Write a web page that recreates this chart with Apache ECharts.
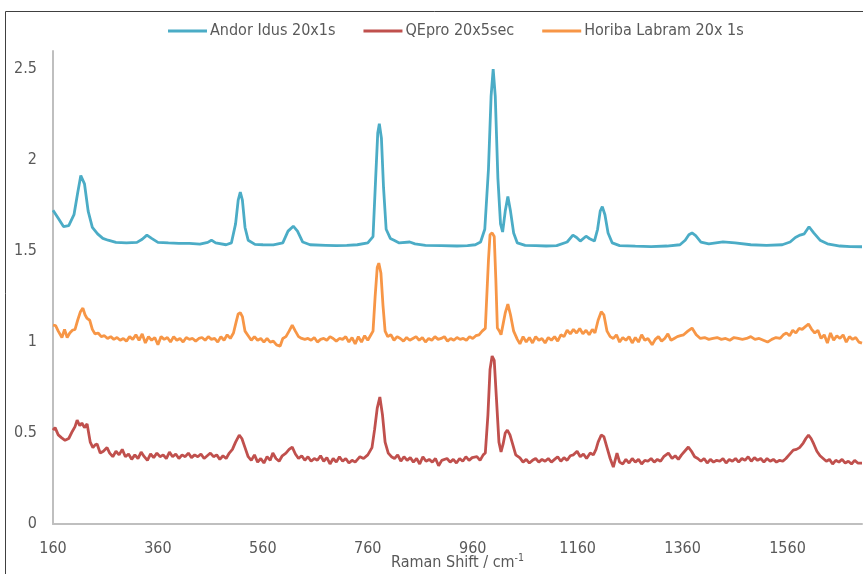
<!DOCTYPE html>
<html>
<head>
<meta charset="utf-8">
<script src="https://cdn.jsdelivr.net/npm/echarts@6/dist/echarts.min.js"></script>
<style>html,body{margin:0;padding:0;background:#fff;}#c{width:863px;height:574px;}</style>
</head>
<body>
<div id="c"></div>
<script>
const seriesNames = ['Andor Idus 20x1s', 'QEpro 20x5sec', 'Horiba Labram 20x 1s'];
const xTicks = [160, 360, 560, 760, 960, 1160, 1360, 1560];
const yTicks = [0, 0.5, 1, 1.5, 2, 2.5];

const andorShift = [160,170,180,190,200,207,213,220,227,235,245,255,265,280,300,320,330,339,348,360,380,400,420,440,455,462,470,490,500,508,513,517,521,526,532,545,560,580,598,608,618,626,636,650,680,700,720,740,760,770,775,779,782,786,790,795,803,810,820,840,850,870,900,930,950,965,975,983,990,995,999,1003,1008,1013,1017,1022,1027,1032,1038,1045,1060,1080,1100,1120,1140,1151,1158,1165,1176,1183,1192,1198,1203,1207,1212,1218,1226,1240,1270,1300,1330,1355,1365,1372,1378,1385,1395,1410,1437,1460,1490,1520,1550,1565,1575,1584,1592,1601,1610,1622,1636,1660,1680,1702];
const andorIntensity = [1.725,1.68,1.635,1.64,1.70,1.82,1.915,1.87,1.72,1.63,1.595,1.57,1.56,1.548,1.545,1.548,1.565,1.588,1.57,1.548,1.545,1.543,1.542,1.538,1.548,1.56,1.545,1.535,1.545,1.65,1.78,1.825,1.78,1.63,1.56,1.537,1.535,1.534,1.545,1.61,1.637,1.61,1.55,1.535,1.532,1.53,1.532,1.535,1.545,1.58,1.9,2.15,2.2,2.12,1.85,1.62,1.57,1.56,1.545,1.55,1.54,1.532,1.53,1.528,1.53,1.535,1.55,1.62,1.95,2.35,2.5,2.35,1.9,1.65,1.605,1.72,1.8,1.72,1.6,1.545,1.532,1.53,1.528,1.53,1.55,1.588,1.575,1.555,1.582,1.568,1.555,1.62,1.72,1.744,1.7,1.6,1.545,1.53,1.527,1.525,1.528,1.535,1.56,1.59,1.6,1.585,1.55,1.54,1.551,1.545,1.535,1.532,1.535,1.55,1.575,1.588,1.595,1.634,1.6,1.56,1.54,1.528,1.525,1.524];

const qeproShift = [160,164,170,176,183,190,197,202,206,211,215,220,225,231,236,240,244,250,256,263,268,274,280,286,292,298,304,310,316,322,328,334,340,346,352,358,364,370,376,382,388,394,400,406,412,418,424,430,436,442,448,454,460,466,472,478,484,490,496,502,508,515,520,526,532,538,544,550,556,562,568,574,579,585,591,597,604,610,616,622,628,634,640,646,652,658,664,670,676,682,688,694,700,706,712,718,724,730,736,745,752,760,768,773,778,783,788,793,799,805,811,817,823,829,835,841,847,853,859,865,871,877,883,889,895,901,911,917,923,929,935,941,947,953,959,968,974,980,984,989,993,997,1001,1005,1010,1014,1018,1022,1026,1031,1036,1042,1050,1056,1062,1068,1074,1080,1086,1092,1098,1104,1110,1116,1122,1128,1134,1140,1146,1152,1159,1165,1171,1177,1184,1190,1195,1199,1205,1210,1216,1222,1228,1235,1240,1246,1252,1258,1264,1270,1276,1282,1288,1294,1300,1306,1312,1318,1324,1333,1340,1346,1352,1358,1364,1371,1377,1383,1389,1395,1401,1407,1413,1419,1425,1431,1437,1443,1449,1455,1461,1467,1473,1479,1485,1491,1497,1503,1509,1515,1521,1527,1533,1539,1545,1551,1557,1563,1571,1577,1583,1590,1595,1600,1605,1610,1616,1622,1628,1634,1640,1646,1652,1658,1664,1670,1676,1682,1688,1694,1702];
const qeproIntensity = [0.516,0.53,0.49,0.475,0.46,0.47,0.51,0.535,0.571,0.54,0.555,0.53,0.55,0.45,0.42,0.434,0.44,0.39,0.4,0.42,0.39,0.37,0.4,0.38,0.41,0.37,0.385,0.355,0.38,0.36,0.395,0.37,0.35,0.385,0.365,0.39,0.37,0.38,0.36,0.395,0.37,0.385,0.36,0.38,0.37,0.39,0.365,0.38,0.37,0.385,0.36,0.375,0.39,0.37,0.38,0.355,0.375,0.36,0.39,0.41,0.45,0.489,0.47,0.42,0.37,0.35,0.38,0.34,0.36,0.335,0.37,0.35,0.39,0.36,0.345,0.375,0.39,0.41,0.423,0.385,0.36,0.375,0.35,0.37,0.345,0.36,0.35,0.375,0.345,0.365,0.33,0.36,0.34,0.37,0.345,0.36,0.335,0.35,0.34,0.37,0.36,0.38,0.42,0.52,0.637,0.698,0.6,0.45,0.39,0.37,0.36,0.38,0.345,0.37,0.35,0.365,0.34,0.36,0.33,0.37,0.345,0.355,0.34,0.36,0.32,0.35,0.36,0.34,0.355,0.335,0.36,0.345,0.37,0.35,0.365,0.37,0.35,0.38,0.39,0.6,0.85,0.923,0.9,0.7,0.45,0.396,0.44,0.5,0.516,0.49,0.44,0.38,0.363,0.34,0.355,0.335,0.35,0.36,0.34,0.355,0.345,0.36,0.34,0.355,0.37,0.345,0.365,0.35,0.375,0.38,0.4,0.37,0.385,0.36,0.39,0.38,0.41,0.45,0.489,0.48,0.42,0.36,0.313,0.39,0.34,0.33,0.355,0.335,0.36,0.34,0.355,0.33,0.35,0.345,0.36,0.34,0.355,0.345,0.37,0.39,0.36,0.375,0.355,0.38,0.4,0.423,0.4,0.37,0.36,0.345,0.36,0.335,0.355,0.34,0.35,0.345,0.36,0.335,0.355,0.345,0.36,0.34,0.36,0.35,0.37,0.345,0.365,0.35,0.36,0.34,0.36,0.345,0.355,0.34,0.35,0.345,0.36,0.38,0.406,0.41,0.42,0.445,0.47,0.489,0.47,0.44,0.4,0.375,0.36,0.345,0.355,0.33,0.35,0.34,0.355,0.335,0.345,0.33,0.35,0.335,0.335];

const horibaShift = [160,165,170,177,182,187,192,197,202,207,212,217,221,225,230,235,240,246,252,258,264,270,276,282,288,294,300,306,312,318,324,330,336,342,348,354,360,366,372,378,384,390,396,402,408,414,420,426,432,438,444,450,456,462,468,474,480,486,492,498,504,509,513,517,521,526,532,538,544,550,556,562,568,574,580,586,593,598,604,610,616,622,628,634,640,646,652,658,664,670,676,682,688,694,700,706,712,718,724,730,736,742,748,754,760,766,770,774,778,781,785,789,793,798,804,810,816,822,828,834,840,846,852,858,864,870,876,882,888,894,900,906,912,918,924,930,936,942,948,954,960,966,972,978,984,987,990,993,997,1001,1004,1007,1011,1014,1018,1022,1027,1032,1038,1045,1050,1056,1062,1068,1074,1080,1086,1092,1098,1104,1110,1116,1122,1128,1134,1140,1146,1152,1158,1164,1170,1176,1182,1188,1193,1199,1205,1210,1216,1222,1228,1234,1240,1246,1252,1258,1264,1270,1276,1282,1288,1294,1302,1308,1314,1320,1326,1332,1338,1344,1350,1356,1362,1370,1378,1386,1394,1402,1410,1418,1426,1434,1442,1450,1458,1466,1474,1482,1490,1498,1506,1514,1522,1530,1538,1546,1552,1558,1564,1570,1576,1582,1588,1594,1600,1606,1612,1618,1624,1630,1636,1642,1648,1654,1660,1666,1672,1678,1684,1690,1696,1702];
const horibaIntensity = [1.093,1.09,1.06,1.025,1.07,1.025,1.05,1.065,1.07,1.12,1.165,1.187,1.15,1.13,1.12,1.07,1.045,1.05,1.03,1.035,1.02,1.03,1.015,1.025,1.01,1.02,1.005,1.03,1.015,1.04,1.01,1.045,0.995,1.03,1.01,1.025,0.985,1.03,1.015,1.025,1.0,1.03,1.01,1.02,1.0,1.025,1.015,1.02,1.005,1.02,1.025,1.01,1.03,1.015,1.02,1.0,1.03,1.01,1.04,1.02,1.05,1.11,1.155,1.161,1.14,1.06,1.035,1.01,1.03,1.01,1.02,1.0,1.02,1.0,1.005,0.985,0.978,1.02,1.03,1.06,1.093,1.06,1.03,1.02,1.015,1.02,1.01,1.025,1.0,1.015,1.02,1.01,1.03,1.02,1.005,1.02,1.015,1.03,1.0,1.025,0.99,1.03,1.0,1.035,1.01,1.04,1.06,1.25,1.41,1.434,1.38,1.2,1.06,1.03,1.04,1.01,1.03,1.02,1.005,1.025,1.01,1.02,1.03,1.01,1.025,1.0,1.02,1.01,1.03,1.015,1.02,1.03,1.005,1.02,1.01,1.025,1.015,1.02,1.01,1.03,1.02,1.035,1.04,1.06,1.075,1.082,1.45,1.59,1.6,1.58,1.35,1.077,1.06,1.04,1.1,1.16,1.209,1.15,1.06,1.015,0.99,1.03,1.0,1.025,0.995,1.03,1.01,1.02,0.995,1.025,1.01,1.03,1.005,1.04,1.03,1.066,1.045,1.07,1.05,1.075,1.045,1.065,1.04,1.07,1.05,1.12,1.167,1.15,1.06,1.03,1.02,1.04,1.0,1.025,1.01,1.03,0.995,1.025,1.0,1.04,1.01,1.02,0.985,1.015,1.03,1.005,1.02,1.045,1.01,1.02,1.03,1.035,1.04,1.06,1.077,1.04,1.02,1.025,1.015,1.02,1.025,1.015,1.02,1.01,1.025,1.02,1.015,1.02,1.03,1.015,1.02,1.01,1.0,1.015,1.025,1.02,1.04,1.05,1.035,1.065,1.05,1.075,1.07,1.085,1.099,1.07,1.05,1.065,1.02,1.04,0.995,1.05,1.01,1.035,1.02,1.04,1.0,1.03,1.015,1.025,1.0,0.994];

const colors = ['#4BACC6', '#C0504D', '#F79646'];
const fontFam = "'Liberation Sans Narrow', 'DejaVu Sans Condensed', 'Noto Sans', sans-serif";

function pairs(xs, ys) { return xs.map((x, i) => [x, ys[i]]); }

const chart = echarts.init(document.getElementById('c'), null, {renderer: 'canvas'});
chart.setOption({
  animation: false,
  color: colors,
  textStyle: {fontFamily: fontFam},
  graphic: [{
    type: 'rect', silent: true, z: -1,
    shape: {x: 5.5, y: 11.5, width: 900, height: 600},
    style: {fill: 'none', stroke: '#404040', lineWidth: 1}
  }],
  legend: {
    top: 23, left: 168, padding: 0,
    itemWidth: 39, itemHeight: 3, itemGap: 28,
    icon: 'rect',
    textStyle: {fontFamily: fontFam, fontSize: 16, color: '#595959', padding: [0, 0, 0, -2]},
    data: seriesNames
  },
  grid: {left: 53, right: 1, top: 51, bottom: 50, containLabel: false, outerBoundsMode: 'none'},
  xAxis: {
    type: 'value', min: 160, max: 1702, interval: 200,
    axisLine: {lineStyle: {color: '#BFBFBF', width: 2}},
    axisTick: {show: false},
    splitLine: {show: false},
    axisLabel: {showMaxLabel: false, margin: 17, color: '#595959', fontSize: 16, fontFamily: fontFam,
      formatter: v => xTicks.indexOf(v) >= 0 ? String(v) : ''},
    name: '{a|Raman Shift / cm}{b|-1}',
    nameLocation: 'middle', nameGap: 29, nameMoveOverlap: false,
    nameTextStyle: {
      color: '#595959', fontFamily: fontFam,
      rich: {
        a: {fontSize: 16, fontFamily: fontFam, color: '#595959', lineHeight: 20},
        b: {fontSize: 10.5, fontFamily: fontFam, color: '#595959', lineHeight: 20, verticalAlign: 'top', padding: [0, 0, 8, 0]}
      }
    }
  },
  yAxis: {
    type: 'value', min: 0, max: 2.6, interval: 0.5,
    axisLine: {show: true, lineStyle: {color: '#BFBFBF', width: 2}},
    axisTick: {show: false},
    splitLine: {show: false},
    axisLabel: {showMaxLabel: false, margin: 16, color: '#595959', fontSize: 16, fontFamily: fontFam,
      formatter: v => yTicks.indexOf(v) >= 0 ? String(v) : ''}
  },
  series: [
    {name: seriesNames[0], type: 'line', symbol: 'none', lineStyle: {width: 2.8, color: colors[0]}, data: pairs(andorShift, andorIntensity), z: 3},
    {name: seriesNames[1], type: 'line', symbol: 'none', lineStyle: {width: 2.8, color: colors[1]}, data: pairs(qeproShift, qeproIntensity), z: 2},
    {name: seriesNames[2], type: 'line', symbol: 'none', lineStyle: {width: 2.8, color: colors[2]}, data: pairs(horibaShift, horibaIntensity), z: 2}
  ]
});
</script>
</body>
</html>
